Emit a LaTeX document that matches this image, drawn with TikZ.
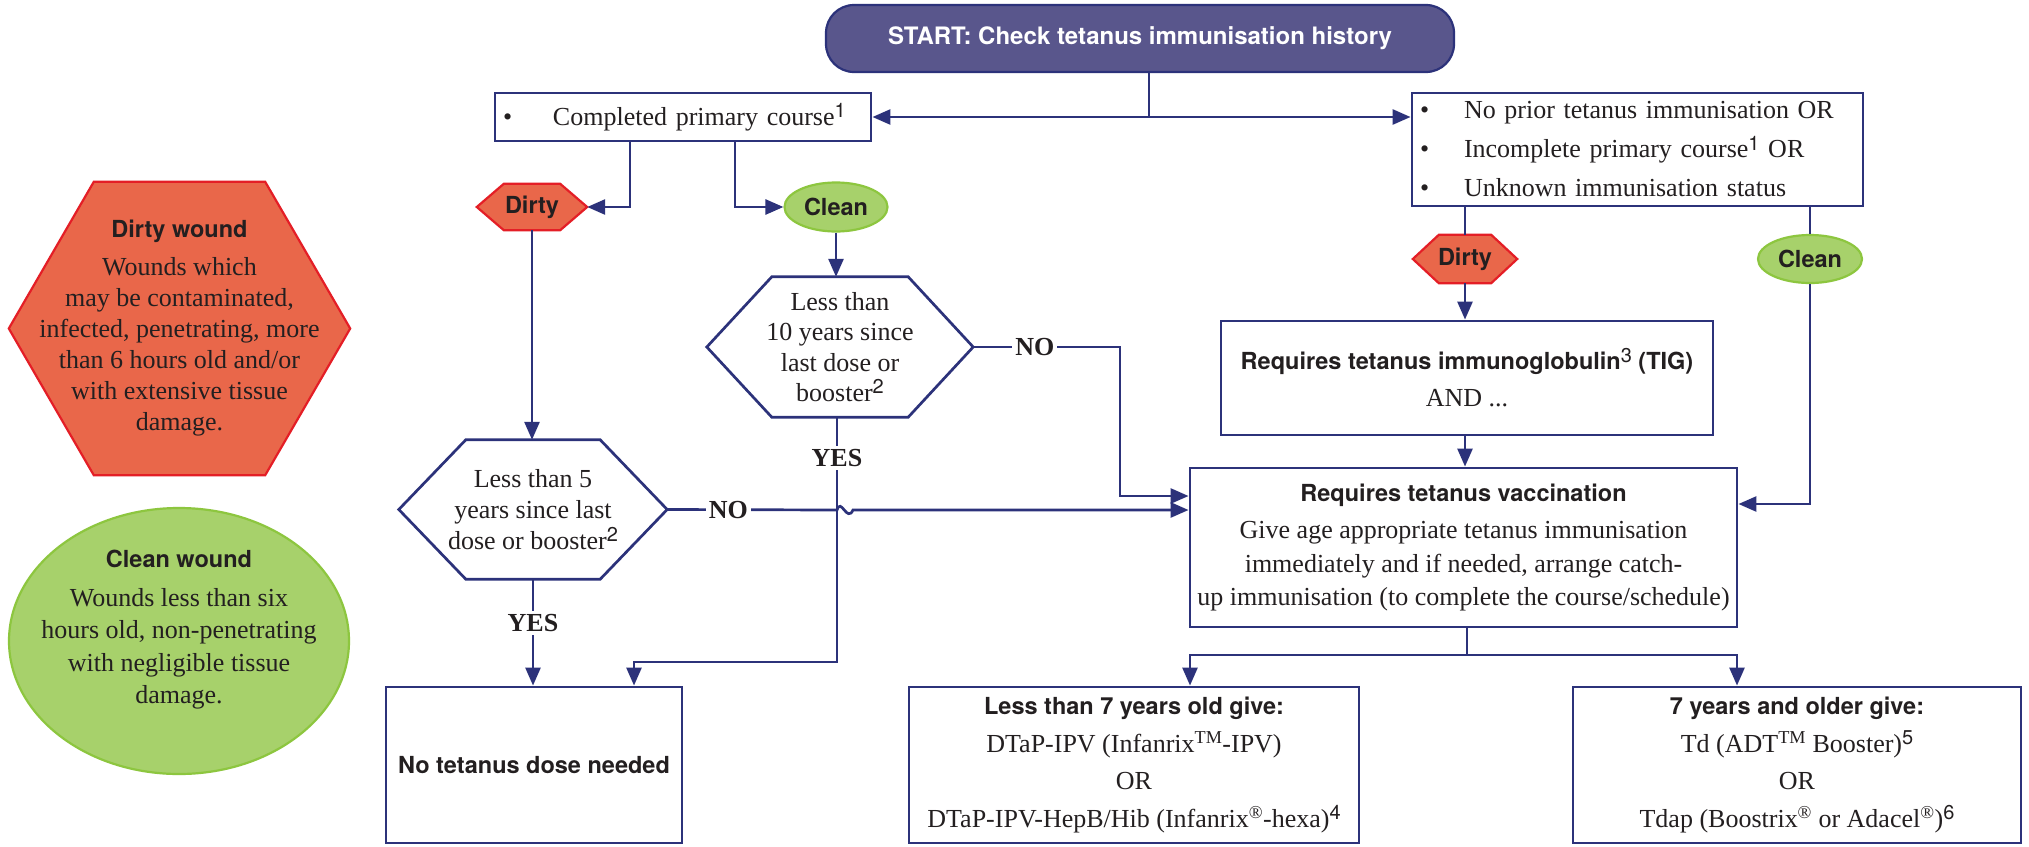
\documentclass[tikz,border=0pt]{standalone}
\usepackage{fontspec}
\setmainfont{Liberation Serif}
\setsansfont{TeX Gyre Heros}
\usetikzlibrary{arrows.meta,shapes.geometric,backgrounds}
\definecolor{navy}{RGB}{44,50,122}
\definecolor{startfill}{RGB}{89,86,140}
\definecolor{dirtyfill}{RGB}{233,103,74}
\definecolor{dirtyline}{RGB}{228,30,38}
\definecolor{cleanfill}{RGB}{167,209,107}
\definecolor{cleanline}{RGB}{141,198,63}
\definecolor{ink}{RGB}{35,31,32}
\newcommand\fnum[1]{\raisebox{0.3em}{\mdseries\sffamily\fontsize{20}{20}\selectfont #1}}
\newcommand\bodyfont{\fontsize{26}{31}\selectfont}
\newcommand\tagfont{\sffamily\bfseries\fontsize{23.5}{28}\selectfont}
\newcommand\hexdraw[3]{\path[#3] (#1.west) -- ([xshift=#2pt]#1.north west) -- ([xshift=-#2pt]#1.north east) -- (#1.east) -- ([xshift=-#2pt]#1.south east) -- ([xshift=#2pt]#1.south west) -- cycle;}
\begin{document}
\begin{tikzpicture}[x=1pt,y=-1pt,
  every node/.style={text=ink,font=\bodyfont},
  box/.style={draw=navy,line width=2.9pt,fill=white,rectangle,inner sep=0pt,align=center},
  conn/.style={draw=navy,line width=2.7pt},
  arr/.style={conn,-{Triangle[length=18pt,width=15pt]}},
  lbl/.style={fill=white,font=\bodyfont\bfseries,inner sep=3pt},
  tag/.style={font=\tagfont,inner sep=0pt,align=center},
  hexbox/.style={rectangle,inner sep=0pt,align=center},
  dirtystyle/.style={fill=dirtyfill,draw=dirtyline,line width=2.2pt},
  cleanstyle/.style={fill=cleanfill,draw=cleanline,line width=2.2pt},
  decstyle/.style={fill=white,draw=navy,line width=2.7pt}]
\useasboundingbox (0,0) rectangle (2029,846);

% ---------- nodes ----------
\node[box,rounded corners=28pt,fill=startfill,line width=2.2pt,minimum width=628,minimum height=67,text=white,font=\tagfont\fontsize{24}{28}\selectfont] (start) at (1140,38.5) {START: Check tetanus immunisation history};

\node[box,minimum width=376,minimum height=48,text width=360,inner xsep=8pt,align=left] (comp) at (683,117) {\makebox[50pt][l]{•}Completed primary course\fnum{1}};

\node[box,minimum width=451,minimum height=113,text width=435,inner xsep=8pt,align=left,font=\fontsize{26}{39}\selectfont] (rbox) at (1637.5,149.5) {\makebox[44pt][l]{•}No prior tetanus immunisation OR\\\makebox[44pt][l]{•}Incomplete primary course\fnum{1} OR\\\makebox[44pt][l]{•}Unknown immunisation status};

\node[tag,minimum width=110,minimum height=46] (dirty1) at (532,207) {Dirty};
\node[tag,ellipse,cleanstyle,minimum width=103,minimum height=49] (clean1) at (836,207) {Clean};

\node[tag,minimum width=104,minimum height=48] (dirty2) at (1465,259) {Dirty};
\node[tag,ellipse,cleanstyle,minimum width=104,minimum height=48] (clean2) at (1810,259) {Clean};

\node[hexbox,minimum width=266,minimum height=140,font=\fontsize{26}{30.5}\selectfont] (hex10) at (840,347) {Less than\\10 years since\\last dose or\\booster\fnum{2}};
\node[hexbox,minimum width=268,minimum height=139] (hex5) at (533,509.5) {Less than 5\\years since last\\dose or booster\fnum{2}};

\node[box,minimum width=492,minimum height=114] (tig) at (1467,378) {{\tagfont Requires tetanus immunoglobulin\fnum{3} (TIG)}\\[6pt]AND ...};

\node[box,minimum width=547,minimum height=159,font=\fontsize{26}{33.5}\selectfont] (vacc) at (1463.5,547.5) {{\tagfont Requires tetanus vaccination}\\[4pt]Give age appropriate tetanus immunisation\\immediately and if needed, arrange catch-\\up immunisation (to complete the course/schedule)};

\node[box,minimum width=296,minimum height=156,font=\tagfont] (notet) at (534,765) {No tetanus dose needed};

\node[box,minimum width=450,minimum height=156,font=\fontsize{26}{37.5}\selectfont] (lt7) at (1134,765) {{\tagfont Less than 7 years old give:}\\DTaP-IPV (Infanrix\textsuperscript{TM}-IPV)\\OR\\DTaP-IPV-HepB/Hib (Infanrix\textsuperscript{®}-hexa)\fnum{4}};

\node[box,minimum width=448,minimum height=156,font=\fontsize{26}{37.5}\selectfont] (ge7) at (1797,765) {{\tagfont 7 years and older give:}\\Td (ADT\textsuperscript{TM} Booster)\fnum{5}\\OR\\Tdap (Boostrix\textsuperscript{®} or Adacel\textsuperscript{®})\fnum{6}};

% legend
\node[hexbox,minimum width=341,minimum height=293] (legD) at (179.5,328.5) {{\tagfont Dirty wound}\\[7pt]Wounds which\\may be contaminated,\\infected, penetrating, more\\than 6 hours old and/or\\with extensive tissue\\damage.};
\node[ellipse,cleanstyle,minimum width=340,minimum height=266,inner sep=0pt] (legC) at (179,641) {};
\node[hexbox,font=\fontsize{26}{32.5}\selectfont] (legCt) at (179,630) {{\tagfont Clean wound}\\[6pt]Wounds less than six\\hours old, non-penetrating\\with negligible tissue\\damage.};

% hexagon outlines behind the texts
\begin{scope}[on background layer]
  \fill[white] (0,0) rectangle (2029,846);
  \hexdraw{legD}{85}{dirtystyle}
  \hexdraw{dirty1}{27}{dirtystyle}
  \hexdraw{dirty2}{26}{dirtystyle}
  \hexdraw{hex10}{65}{decstyle}
  \hexdraw{hex5}{67}{decstyle}
\end{scope}

% ---------- connectors ----------
\coordinate (j1) at (1149,117);
\draw[conn] (start.south -| j1) -- (j1);
\draw[arr] (j1) -- (comp.east |- j1);
\draw[arr] (j1) -- (rbox.west |- j1);

\coordinate (d1j) at (630,207);
\draw[arr] (comp.south -| d1j) -- (d1j) -- (dirty1.east);
\coordinate (c1j) at (735,207);
\draw[arr] (comp.south -| c1j) -- (c1j) -- (clean1.west);

\draw[arr] (clean1.south) -- (clean1.south |- hex10.north);
\draw[arr] (dirty1.south) -- (dirty1.south |- hex5.north);

\coordinate (n10a) at (1120,347);
\coordinate (n10b) at (1120,496);
\draw[arr] (hex10.east) -- node[lbl,pos=0.42]{NO} (n10a) -- (n10b) -- (vacc.west |- n10b);

\coordinate (y10a) at (837,662);
\coordinate (y10b) at (634,662);
\draw[arr] (hex10.south -| y10a) -- node[lbl,pos=0.167]{YES} (y10a) -- (y10b) -- (y10b |- notet.north);

\coordinate (hopA) at (837,510);
\coordinate (hopB) at (853,510);
\draw[arr] (hex5.east) -- node[lbl,pos=0.36]{NO} (hopA) .. controls ([shift={(4,-13)}]hopA) and ([shift={(-6,13)}]hopB) .. (hopB) -- (vacc.west |- hopB);

\draw[arr] (hex5.south) -- node[lbl,pos=0.41]{YES} (hex5.south |- notet.north);

\draw[conn] (rbox.south -| dirty2.north) -- (dirty2.north);
\draw[conn] (rbox.south -| clean2.north) -- (clean2.north);
\draw[arr] (dirty2.south) -- (dirty2.south |- tig.north);
\draw[arr] (tig.south -| dirty2.south) -- (vacc.north -| dirty2.south);

\coordinate (c2j) at (1809,504);
\draw[arr] (clean2.south) -- (clean2.south |- c2j) -- (vacc.east |- c2j);

\coordinate (bj) at (1467,655);
\coordinate (bl) at (1190,655);
\coordinate (br) at (1737,655);
\draw[conn] (vacc.south -| bj) -- (bj);
\draw[arr] (bj) -- (bl) -- (bl |- lt7.north);
\draw[arr] (bj) -- (br) -- (br |- ge7.north);
\end{tikzpicture}
\end{document}
